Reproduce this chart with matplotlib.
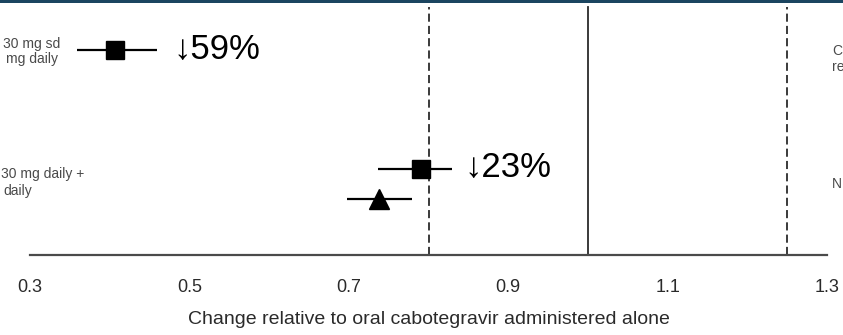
import matplotlib
matplotlib.use("Agg")
import matplotlib.pyplot as plt

plt.rcParams["font.family"] = ["Liberation Sans", "DejaVu Sans"]

# geometric mean ratios and 90% CI, relative to cabotegravir alone
point_est = [0.407, 0.79, 0.738]
ci_low = [0.359, 0.737, 0.698]
ci_high = [0.459, 0.83, 0.779]
markers = ["s", "s", "^"]
row_y = [205, 86, 56]

# reduction call-outs next to the top marker of each group
callouts = ["\u219359%", "\u219323%"]
callout_x = [0.48, 0.845]
callout_y = [205, 87]

# reference lines: no-effect line and 0.80-1.25 bounds
ref_solid = 1.0
ref_dashed = [0.8, 1.25]

xticks = [0.3, 0.5, 0.7, 0.9, 1.1, 1.3]
xtick_labels = ["0.3", "0.5", "0.7", "0.9", "1.1", "1.3"]

W, H = 843, 335
fig = plt.figure(figsize=(W / 100, H / 100), dpi=100)
fig.patch.set_facecolor("white")

# dark banner at the very top
fig.add_artist(plt.Rectangle((0, 1 - 3 / H), 1, 3 / H, transform=fig.transFigure,
                             color="#1b4560", lw=0))

ax = fig.add_axes([30 / W, (H - 255) / H, 797 / W, 251 / H])
ax.set_xlim(0.3, 1.3)
ax.set_ylim(0, 251)

for x in ref_dashed:
    ax.axvline(x, color="#2b2b2b", lw=1.3, dashes=(4.5, 2.3), ymax=0.99)
ax.axvline(ref_solid, color="#2b2b2b", lw=1.3, ymax=0.99)

for pe, lo, hi, y, m in zip(point_est, ci_low, ci_high, row_y, markers):
    ax.plot([lo, hi], [y, y], color="black", lw=1.6, solid_capstyle="butt")
    ms = 13.5 if m == "s" else 14
    ax.plot(pe, y, marker=m, ms=ms, color="black", mec="black")

for txt, x, y in zip(callouts, callout_x, callout_y):
    ax.text(x, y, txt, fontsize=25, ha="left", va="center", color="black")

for side in ["top", "right", "left"]:
    ax.spines[side].set_visible(False)
ax.spines["bottom"].set_color("#4a4a4a")
ax.spines["bottom"].set_linewidth(1.6)
ax.set_yticks([])
ax.set_xticks(xticks)
ax.set_xticklabels(xtick_labels, fontsize=13, color="#2a2a2a")
ax.tick_params(axis="x", length=0, pad=17)
ax.set_xlabel("Change relative to oral cabotegravir administered alone",
              fontsize=14, color="#2a2a2a", labelpad=11)

# row labels, partly cut off at the figure edges
txt_kw = dict(fontsize=10, color="#4a4a4a", va="center")
fig.text(32 / W, 1 - 44 / H, "30 mg sd", ha="center", **txt_kw)
fig.text(32 / W, 1 - 59 / H, "mg daily", ha="center", **txt_kw)
fig.text(1 / W, 1 - 174 / H, "30 mg daily +", ha="left", **txt_kw)
fig.text(3 / W, 1 - 191 / H, "daily", ha="left", **txt_kw)
fig.text(832 / W, 1 - 51 / H, "C", ha="left", **txt_kw)
fig.text(832 / W, 1 - 67 / H, "re", ha="left", **txt_kw)
fig.text(832 / W, 1 - 184 / H, "N", ha="left", **txt_kw)

fig.savefig("out.png", dpi=100, facecolor="white")
